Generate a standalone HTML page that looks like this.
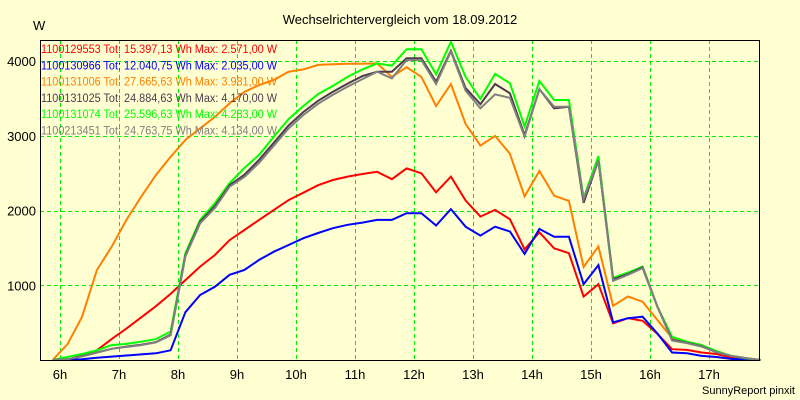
<!DOCTYPE html>
<html><head><meta charset="utf-8"><style>
html,body{margin:0;padding:0;background:#ffffd2;}
svg{display:block;font-family:"Liberation Sans",sans-serif;}
</style></head><body>
<svg id="chart" width="800" height="400" viewBox="0 0 800 400" xmlns="http://www.w3.org/2000/svg">
<rect x="0" y="0" width="800" height="400" fill="#ffffd2"/>
<text x="400" y="24" font-size="13" text-anchor="middle" fill="#000">Wechselrichtervergleich vom 18.09.2012</text>
<text x="33" y="30" font-size="13" fill="#000">W</text>
<text x="795" y="394" font-size="11" text-anchor="end" fill="#000">SunnyReport pinxit</text>
<g id="grid" shape-rendering="crispEdges"></g>
<g id="series"></g>
<g id="axes"></g>
<g id="legend"></g>
</svg>
<script>
const xTicks = ["6h","7h","8h","9h","10h","11h","12h","13h","14h","15h","16h","17h"];
const xTickHours = [6,7,8,9,10,11,12,13,14,15,16,17];
const yTicks = [1000,2000,3000,4000];
const startHour = 5.875;
const stepHour = 0.25;
const seriesNames = ["1100129553","1100130966","1100131006","1100131025","1100131074","1100213451"];
const seriesTot = ["15.397,13","12.040,75","27.665,63","24.884,63","25.596,63","24.763,75"];
const seriesMax = ["2.571,00","2.035,00","3.981,00","4.170,00","4.283,00","4.134,00"];
const red = [0,0,60,130,280,420,570,720,885,1070,1250,1405,1605,1740,1875,2010,2140,2240,2340,2410,2455,2490,2520,
 2420,2565,2500,2245,2455,2135,1920,2010,1885,1480,1710,1495,1430,850,1015,490,560,525,350,145,135,100,80,35,10,0];
const blue = [0,0,10,30,45,60,75,90,130,640,870,980,1140,1205,1340,1450,1540,1630,1700,1765,1810,1840,1875,
 1875,1965,1965,1800,2020,1785,1665,1785,1720,1420,1755,1650,1650,1015,1270,505,560,580,355,100,90,55,40,15,5,0];
const orange = [0,210,580,1205,1515,1875,2185,2475,2720,2945,3100,3255,3435,3590,3680,3750,3860,3890,3950,3960,3965,3965,3970,
 3790,3920,3790,3400,3695,3160,2870,3000,2760,2190,2530,2200,2130,1245,1520,725,850,780,535,295,245,200,100,45,20,0];
const dark = [0,10,50,100,150,180,205,240,340,1400,1850,2060,2340,2480,2680,2910,3140,3320,3470,3590,3700,3800,3860,
 3860,4040,4040,3725,4140,3640,3425,3695,3570,3010,3625,3370,3390,2105,2670,1080,1150,1240,715,270,230,185,105,55,25,0];
const green = [0,40,80,130,200,215,245,280,380,1430,1875,2100,2370,2570,2745,2990,3225,3400,3560,3670,3790,3890,3970,
 3940,4160,4160,3825,4260,3790,3495,3830,3705,3125,3735,3480,3480,2170,2730,1100,1170,1250,715,310,245,200,120,55,20,0];
const gray = [0,10,50,100,150,175,200,235,330,1385,1830,2035,2320,2450,2640,2870,3100,3280,3430,3550,3660,3760,3860,
 3770,4015,4015,3695,4130,3605,3370,3555,3510,2990,3625,3390,3390,2155,2670,1060,1140,1230,715,260,225,180,105,55,25,0];

const NS = "http://www.w3.org/2000/svg";
const L = 40, R = 759, T = 40, B = 360;
function xScale(h){ return 60 + (h - 6) * 59; }
function yScale(v){ return B - v * 0.0747; }
function mk(tag, attrs, parent){
  const e = document.createElementNS(NS, tag);
  for (const k in attrs) e.setAttribute(k, attrs[k]);
  parent.appendChild(e);
  return e;
}
const grid = document.getElementById('grid');
const axes = document.getElementById('axes');
xTickHours.forEach((h, i) => {
  const x = Math.round(xScale(h)) + 0.5;
  const g = mk('line', {x1:x, x2:x, y1:T, y2:B, stroke:'#00ee00', 'stroke-width':1, 'stroke-dasharray':'4,3'}, grid);
  
  
  const t = mk('text', {x:xScale(h), y:379, 'font-size':13, 'text-anchor':'middle', fill:'#000'}, axes);
  t.textContent = xTicks[i];
  
  
});
yTicks.forEach(v => {
  const y = Math.round(yScale(v)) + 0.5;
  const g = mk('line', {x1:L, x2:R, y1:y, y2:y, stroke:'#00ee00', 'stroke-width':1, 'stroke-dasharray':'4,3'}, grid);
  
  
  const t = mk('text', {x:36, y:yScale(v)+5, 'font-size':13, 'text-anchor':'end', fill:'#000'}, axes);
  t.textContent = String(v);
  
  
});
const frame = mk('rect', {x:L+0.5, y:T+0.5, width:R-L, height:B-T, fill:'none', stroke:'#000', 'stroke-width':1, 'shape-rendering':'crispEdges'}, axes);



const seriesData = [red, blue, orange, dark, green, gray];
const colors = ['#ff0000','#0000ff','#ff8000','#4e3a4e','#00ff00','#808080'];
const drawOrder = [2,0,1,4,3,5];
const sg = document.getElementById('series');
drawOrder.forEach(i => {
  const d = seriesData[i];
  const pts = d.map((v, k) => xScale(startHour + k*stepHour).toFixed(1) + ',' + yScale(v).toFixed(1)).join(' ');
  const p = mk('polyline', {points:pts, fill:'none', stroke:colors[i], 'stroke-width':2, 'stroke-linejoin':'miter'}, sg);
  
  
});
const lg = document.getElementById('legend');
seriesNames.forEach((n, i) => {
  const t = mk('text', {x:41, y:53 + i*16.3, 'font-size':11.5, fill:colors[i], textLength:236, lengthAdjust:'spacingAndGlyphs'}, lg);
  t.textContent = n + ' Tot: ' + seriesTot[i] + ' Wh Max: ' + seriesMax[i] + ' W';
  
  
});
</script>
</body></html>
